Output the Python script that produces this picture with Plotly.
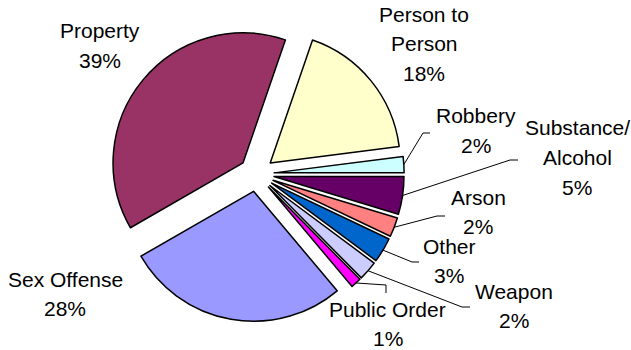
import math
import plotly.graph_objects as go

# ---- data (shares in %; labels show them rounded) ----
categories = ["Person to Person", "Robbery", "Substance/Alcohol", "Arson", "Other",
              "Weapon", "Public Order", "Sex Offense", "Property"]
percentages = [17.7, 2.0, 4.7, 2.4, 3.1, 2.4, 1.3, 27.8, 38.6]
colors = ["#FFFFCC", "#CCFFFF", "#660066", "#FF8080", "#0066CC",
          "#CCCCFF", "#FF00FF", "#9999FF", "#993366"]
display_lines = [["Person to", "Person"], ["Robbery"], ["Substance/", "Alcohol"], ["Arson"],
                 ["Other"], ["Weapon"], ["Public Order"], ["Sex Offense"], ["Property"]]

# ---- layout constants (pixels) ----
W, H = 631, 350
CX, CY = 256.6, 174.0      # pie centre
R = 130.0                  # slice radius
PULL = 0.135
ROT = 19                   # start angle, clockwise from 12 o'clock

# label block centre x, first line y
label_pos = [(424, 14), (476, 116), (577, 128), (478, 197), (449, 246),
             (514, 291), (388, 309), (65, 279), (100, 31)]
LINE_GAP = 29.5
# leader line end points (None = no leader line)
leaders = [None,
           [(423, 133), (430, 133)],
           [(510, 160), (518, 160)],
           [(437, 216), (445, 216)],
           [(412, 262), (419, 262)],
           [(462, 307), (470, 307)],
           [(386, 285), (386, 293)],
           None, None]

box = 2 * R * (1 + PULL)
dom_y = [1 - (CY + box / 2) / H, 1 - (CY - box / 2) / H]
dom_x = [(CX - 165) / W, (CX + 165) / W]

fig = go.Figure(go.Pie(
    labels=categories, values=percentages, sort=False, direction="clockwise",
    rotation=ROT, pull=[PULL] * len(percentages), textinfo="none",
    marker=dict(colors=colors, line=dict(color="#000000", width=1.5)),
    domain=dict(x=dom_x, y=dom_y), hoverinfo="label+percent", showlegend=False,
))

def px(x, y):
    return x / W, 1 - y / H

annotations = []
shapes = []
total = sum(percentages)
acc = 0.0
for i, v in enumerate(percentages):
    mid = math.radians(ROT + 360.0 * (acc + v / 2) / total)
    acc += v
    pct = int(100.0 * v / total + 0.5)
    lines = display_lines[i] + [f"{pct}%"]
    lx, ly = label_pos[i]
    for k, t in enumerate(lines):
        ax, ay = px(lx, ly + k * LINE_GAP)
        annotations.append(dict(x=ax, y=ay, xref="paper", yref="paper", text=t,
                                showarrow=False, xanchor="center", yanchor="middle",
                                font=dict(family="Liberation Sans, Arial", size=21, color="#000000")))
    if leaders[i]:
        sx = CX + R * (1 + PULL) * math.sin(mid)
        sy = CY - R * (1 + PULL) * math.cos(mid)
        pts = [(sx, sy)] + leaders[i]
        for (x0, y0), (x1, y1) in zip(pts[:-1], pts[1:]):
            a0, b0 = px(x0, y0)
            a1, b1 = px(x1, y1)
            shapes.append(dict(type="line", xref="paper", yref="paper", x0=a0, y0=b0, x1=a1, y1=b1,
                               line=dict(color="#000000", width=1)))

fig.update_layout(width=W, height=H, margin=dict(l=0, r=0, t=0, b=0),
                  paper_bgcolor="white", plot_bgcolor="white",
                  annotations=annotations, shapes=shapes)
fig.write_html("out.html", config={"displayModeBar": False},
               post_script="document.body.style.margin='0px';")
